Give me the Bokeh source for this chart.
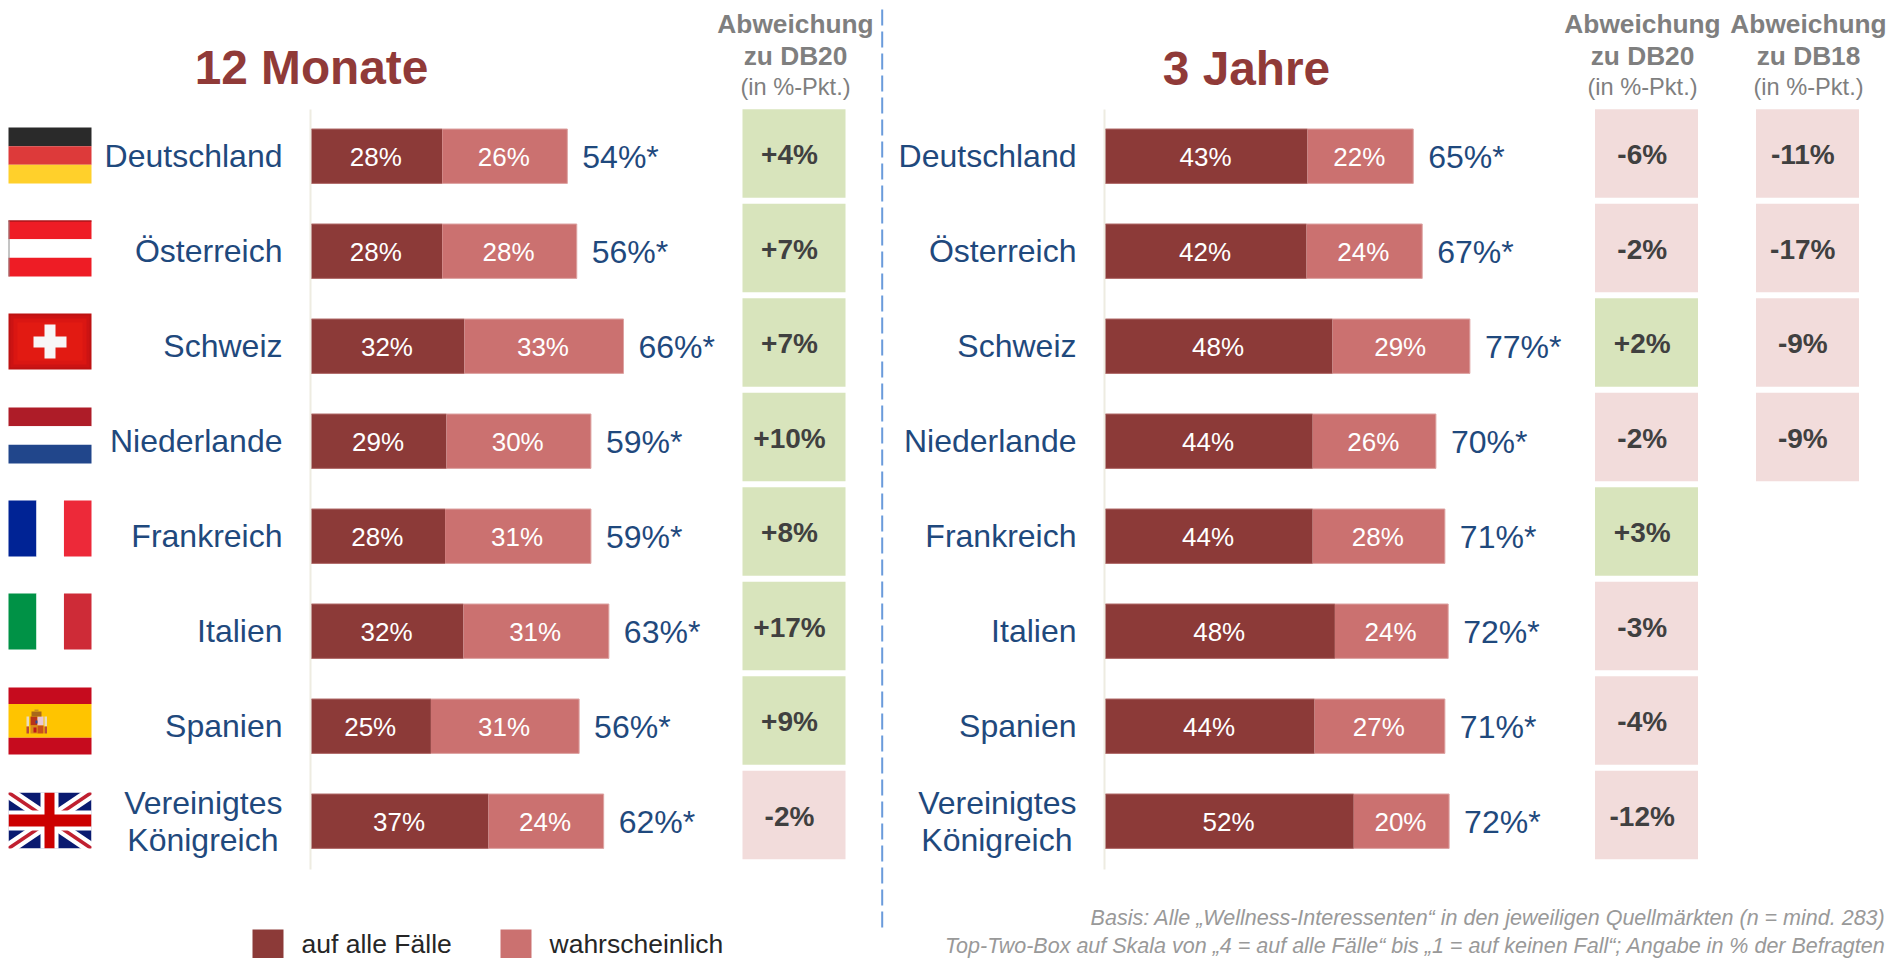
from bokeh.plotting import figure
from bokeh.models import Range1d, ColumnDataSource
from bokeh.core.properties import value
from bokeh.embed import file_html
from bokeh.resources import INLINE

# ---------- data ----------
countries = ["Deutschland", "Österreich", "Schweiz", "Niederlande", "Frankreich", "Italien", "Spanien",
             "Vereinigtes\nKönigreich"]
m12_sure = [27.7, 27.7, 32.4, 28.6, 28.3, 32.2, 25.3, 37.5]
m12_likely = [26.5, 28.5, 33.7, 30.6, 30.9, 30.8, 31.4, 24.4]
m12_sure_lbl = ["28%", "28%", "32%", "29%", "28%", "32%", "25%", "37%"]
m12_likely_lbl = ["26%", "28%", "33%", "30%", "31%", "31%", "31%", "24%"]
m12_total_lbl = ["54%*", "56%*", "66%*", "59%*", "59%*", "63%*", "56%*", "62%*"]
m12_db20 = ["+4%", "+7%", "+7%", "+10%", "+8%", "+17%", "+9%", "-2%"]

y3_sure = [42.8, 42.6, 48.1, 43.9, 43.9, 48.6, 44.3, 52.6]
y3_likely = [22.4, 24.5, 29.1, 26.1, 28.0, 24.0, 27.6, 20.2]
y3_sure_lbl = ["43%", "42%", "48%", "44%", "44%", "48%", "44%", "52%"]
y3_likely_lbl = ["22%", "24%", "29%", "26%", "28%", "24%", "27%", "20%"]
y3_total_lbl = ["65%*", "67%*", "77%*", "70%*", "71%*", "72%*", "71%*", "72%*"]
y3_db20 = ["-6%", "-2%", "+2%", "-2%", "+3%", "-3%", "-4%", "-12%"]
y3_db18 = ["-11%", "-17%", "-9%", "-9%"]

# ---------- styling / layout ----------
FONT = value("Liberation Sans")
DARK, LIGHT = "#8C3A38", "#CB7170"
NAVY, GREY, TITLE = "#1F497D", "#7F7F7F", "#903A38"
GREEN, PINK = "#D8E4BC", "#F2DCDB"
W, H = 1891, 958
PX = 4.72

p = figure(width=W, height=H, output_backend="svg", toolbar_location=None,
           x_range=Range1d(0, W), y_range=Range1d(H, 0), min_border=0,
           x_axis_location=None, y_axis_location=None, outline_line_color=None)
p.grid.visible = False
p.xaxis.visible = False
p.yaxis.visible = False
p.extra_x_ranges = {
    "m12": Range1d(-311 / PX, (W - 311) / PX),
    "y3": Range1d(-1105 / PX, (W - 1105) / PX),
}

n = len(countries)
bar_y = [155.7 + 95 * i for i in range(n)]
tile_y = [153.0 + 94.5 * i for i in range(n)]
BAR_H = 54.4


def txt(x, y, s, size, color, align="center", style="normal", range_name=None, x_offset=0):
    src = ColumnDataSource(dict(x=x, y=y, s=s))
    kw = {"x_range_name": range_name} if range_name else {}
    p.text("x", "y", text="s", source=src, text_font=FONT, text_font_size=f"{size}px", text_color=color,
           text_align=align, text_baseline="middle", text_font_style=style, x_offset=x_offset, **kw)


def panel(name, sure, likely, sure_lbl, likely_lbl, total_lbl, label_right, axis_x):
    p.segment([axis_x], [109], [axis_x], [869], line_color="#EEECE1", line_width=2)
    ends = [a + b for a, b in zip(sure, likely)]
    src = ColumnDataSource(dict(y=bar_y, zero=[0] * n, sure=sure, ends=ends))
    p.hbar(y="y", left="zero", right="sure", height=BAR_H, source=src, fill_color=DARK,
           line_color=None, x_range_name=name)
    p.hbar(y="y", left="sure", right="ends", height=BAR_H, source=src, fill_color=LIGHT,
           line_color=None, x_range_name=name)
    for off in (-BAR_H / 2, BAR_H / 2):
        ey = [y + off for y in bar_y]
        p.segment([0] * n, ey, sure, ey, line_color="#B06A68", line_width=1, x_range_name=name)
        p.segment(sure, ey, ends, ey, line_color="#DDA3A2", line_width=1, x_range_name=name)
    p.segment(ends, [y - BAR_H / 2 for y in bar_y], ends, [y + BAR_H / 2 for y in bar_y],
              line_color="#DDA3A2", line_width=1, x_range_name=name)
    txt([a / 2 for a in sure], [y + 1 for y in bar_y], sure_lbl, 26, "white", range_name=name, x_offset=-1)
    txt([a + b / 2 for a, b in zip(sure, likely)], [y + 1 for y in bar_y], likely_lbl, 26, "white",
        range_name=name, x_offset=-1)
    txt(ends, [y + 1 for y in bar_y], total_lbl, 32, NAVY, align="left", range_name=name, x_offset=15)
    for i, c in enumerate(countries):
        if "\n" in c:
            a, b = c.split("\n")
            txt([label_right], [bar_y[i] - 18.5], [a], 32, NAVY, align="right")
            txt([label_right - 4], [bar_y[i] + 18.5], [b], 32, NAVY, align="right")
        else:
            txt([label_right], [bar_y[i]], [c], 32, NAVY, align="right")


def tiles(labels, x0, x1, tx):
    ys = tile_y[:len(labels)]
    colors = [GREEN if s.startswith("+") else PINK for s in labels]
    src = ColumnDataSource(dict(l=[x0] * len(labels), r=[x1] * len(labels),
                                t=[y - 44.3 for y in ys], b=[y + 44.3 for y in ys], c=colors))
    p.quad(left="l", right="r", top="t", bottom="b", fill_color="c", line_color=None, source=src)
    txt([tx] * len(labels), [y + 1 for y in ys], labels, 28, "#404040", style="bold")


def header(cx, db):
    txt([cx], [23], ["Abweichung"], 26.3, GREY, style="bold")
    txt([cx], [55], [db], 26.3, GREY, style="bold")
    txt([cx], [86], ["(in %-Pkt.)"], 23.6, GREY)


panel("m12", m12_sure, m12_likely, m12_sure_lbl, m12_likely_lbl, m12_total_lbl, 282, 310)
panel("y3", y3_sure, y3_likely, y3_sure_lbl, y3_likely_lbl, y3_total_lbl, 1076, 1104)
tiles(m12_db20, 742, 845, 789)
tiles(y3_db20, 1594.5, 1697.5, 1641.7)
tiles(y3_db18, 1755.5, 1858.5, 1802.3)
header(795, "zu DB20")
header(1642, "zu DB20")
header(1808, "zu DB18")

txt([311], [67], ["12 Monate"], 47.8, TITLE, style="bold")
txt([1246], [68], ["3 Jahre"], 47.8, TITLE, style="bold")

p.segment([881.7], [9], [881.7], [927], line_color="#6A9BDB", line_width=2, line_dash="16 6")

# legend
p.quad(left=[252, 500], right=[283, 531], top=[929, 929], bottom=[958, 958], fill_color=[DARK, LIGHT], line_color=None)
txt([301, 549], [943, 943], ["auf alle Fälle", "wahrscheinlich"], 26.5, "#262626", align="left")

# footnotes
txt([1885], [917.5], ["Basis: Alle „Wellness-Interessenten“ in den jeweiligen Quellmärkten (n = mind. 283)"],
    21.5, "#999999", align="right", style="italic")
txt([1885], [945.5], ["Top-Two-Box auf Skala von „4 = auf alle Fälle“ bis „1 = auf keinen Fall“; Angabe in % der Befragten"],
    21.5, "#999999", align="right", style="italic")


# ---------- flags ----------
FL, FR = 8, 91


def hstripes(top, bottom, cols, fracs=None):
    k = len(cols)
    fracs = fracs or [(i / k, (i + 1) / k) for i in range(k)]
    h = bottom - top
    p.quad(left=[FL] * k, right=[FR] * k, top=[top + h * a for a, b in fracs], bottom=[top + h * b for a, b in fracs],
           fill_color=cols, line_color=None)


def vstripes(top, bottom, cols):
    w = FR - FL
    p.quad(left=[FL, FL + w * 0.337, FL + w * 0.668], right=[FL + w * 0.337, FL + w * 0.668, FR],
           top=[top] * 3, bottom=[bottom] * 3, fill_color=cols, line_color=None)


hstripes(127, 183, ["#2A2A2A", "#DD3A3A", "#FFD02B"])
hstripes(220, 276, ["#EE1C25", "#FFFFFF", "#EE1C25"])
p.segment([FL], [220.5], [FR], [220.5], line_color="#8A1015", line_width=1)
p.segment([FL + .5], [220], [FL + .5], [276], line_color="#8A8A8A", line_width=1)
# Switzerland
p.quad(left=[FL], right=[FR], top=[313], bottom=[369], fill_color="#BE1212", line_color=None)
p.quad(left=[FL + 2], right=[FR - 2], top=[315], bottom=[367], fill_color="#CC1313", line_color=None)
p.quad(left=[FL + 5], right=[FR - 5], top=[318], bottom=[364], fill_color="#DA1612", line_color=None)
p.quad(left=[FL + 9], right=[FR - 9], top=[322], bottom=[360], fill_color="#E21A12", line_color=None)
p.quad(left=[44, 33], right=[55, 66], top=[324, 336], bottom=[358, 347], fill_color="#F8F6F6", line_color=None)
hstripes(407, 463, ["#AE1C28", "#FFFFFF", "#21468B"])
vstripes(500, 556, ["#002395", "#FFFFFF", "#ED2939"])
vstripes(593, 649, ["#009246", "#FFFFFF", "#CE2B37"])
hstripes(687, 754, ["#C60B1E", "#FFC400", "#C60B1E"], [(0, .245), (.245, .75), (.75, 1)])
# Spanish arms
arm_l = [30, 30, 37, 37, 26, 44, 26, 44, 31, 34, 35, 33]
arm_r = [37, 37, 43, 43, 28.5, 46.5, 28.5, 46.5, 41, 38, 37, 36]
arm_t = [716, 725, 716, 725, 716, 716, 726, 726, 711, 709, 720, 727]
arm_b = [725, 733, 725, 733, 726, 726, 733, 733, 716, 711, 723, 732]
arm_c = ["#B8341A", "#D88A1A", "#E8C8D8", "#C8501A", "#E8DCC0", "#E8DCC0", "#B84A3A", "#B84A3A",
         "#A8681A", "#C89020", "#2A4AA0", "#C01818"]
p.quad(left=arm_l, right=arm_r, top=arm_t, bottom=arm_b, fill_color=arm_c, line_color=None)
# UK
UT, UB = 792, 848
p.quad(left=[FL], right=[FR], top=[UT], bottom=[UB], fill_color="#0A1A70", line_color=None)
p.segment([FL, FL], [UT, UB], [FR, FR], [UB, UT], line_color="#FFFFFF", line_width=12)
p.segment([FL, FL], [UT, UB], [FR, FR], [UB, UT], line_color="#C02030", line_width=3.5)
p.quad(left=[40, FL], right=[58, FR], top=[UT, 810], bottom=[UB, 830], fill_color="#FFFFFF", line_color=None)
p.quad(left=[44, FL], right=[54, FR], top=[UT, 814], bottom=[UB, 826], fill_color="#CC0000", line_color=None)
# white outer mask so the saltire is clipped to the flag
p.quad(left=[0, FR], right=[FL, 100], top=[785, 785], bottom=[855, 855], fill_color="white", line_color=None)
p.quad(left=[0, 0], right=[100, 100], top=[785, UB], bottom=[UT, 855], fill_color="white", line_color=None)

open("out.html", "w").write(file_html(p, INLINE))
